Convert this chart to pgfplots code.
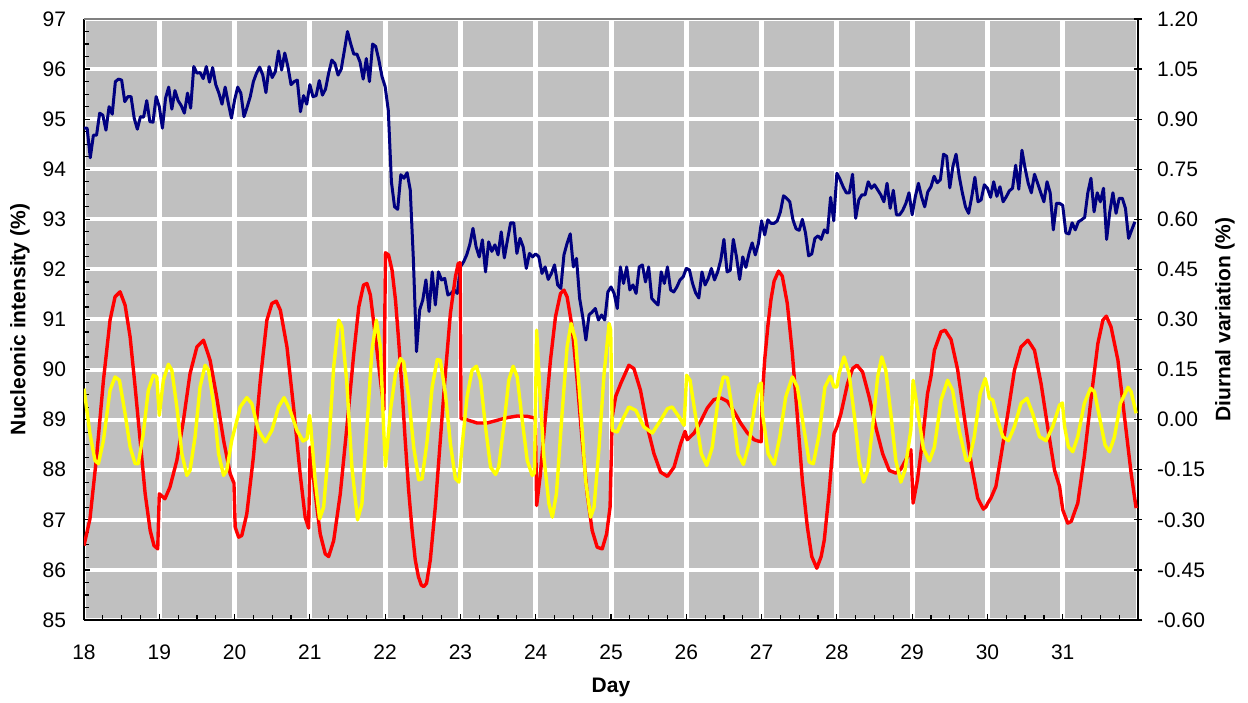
\documentclass[border=0pt]{standalone}
\usepackage{pgfplots}
\pgfplotsset{compat=1.18}
\usepackage{pgfplotstable}
\usepackage{fontspec}
\setmainfont{Liberation Sans}
\definecolor{plotgray}{RGB}{192,192,192}
\definecolor{navyline}{RGB}{0,0,128}
\definecolor{redline}{RGB}{255,0,0}
\definecolor{yellowline}{RGB}{255,255,0}

% Nucleonic intensity (%), hours from day 18 00h
\pgfplotstableread{
h v
0 94.82
1 94.82
2 94.23
3 94.68
4 94.68
5 95.12
6 95.08
7 94.78
8 95.25
9 95.10
10 95.75
11 95.80
12 95.78
13 95.35
14 95.45
15 95.45
16 95.02
17 94.80
18 95.05
19 95.04
20 95.37
21 94.95
22 94.94
23 95.45
24 95.25
25 94.82
26 95.42
27 95.64
28 95.20
29 95.57
30 95.37
31 95.27
32 95.12
33 95.52
34 95.22
35 96.05
36 95.92
37 95.93
38 95.81
39 96.05
40 95.74
41 96.03
42 95.69
43 95.52
44 95.30
45 95.64
46 95.32
47 95.02
48 95.38
49 95.64
50 95.52
51 95.05
52 95.24
53 95.45
54 95.75
55 95.92
56 96.04
57 95.88
58 95.53
59 96.05
60 95.83
61 95.95
62 96.36
63 95.98
64 96.32
65 96.05
66 95.69
67 95.75
68 95.78
69 95.15
70 95.47
71 95.30
72 95.69
73 95.45
74 95.47
75 95.77
76 95.48
77 95.60
78 95.92
79 96.18
80 96.11
81 95.88
82 96.00
83 96.37
84 96.75
85 96.51
86 96.30
87 96.30
88 96.14
89 95.80
90 96.21
91 95.75
92 96.50
93 96.45
94 96.18
95 95.85
96 95.65
97 95.18
98 93.75
99 93.25
100 93.20
101 93.89
102 93.82
103 93.93
104 93.59
105 92.20
106 90.36
107 91.19
108 91.39
109 91.79
110 91.16
111 91.95
112 91.29
113 91.95
114 91.79
115 91.82
116 91.49
117 91.52
118 91.59
119 91.52
120 92.05
121 92.15
122 92.29
123 92.50
124 92.82
125 92.45
126 92.25
127 92.59
128 91.95
129 92.55
130 92.36
131 92.49
132 92.29
133 92.75
134 92.23
135 92.59
136 92.93
137 92.93
138 92.32
139 92.62
140 92.45
141 92.02
142 92.32
143 92.25
144 92.31
145 92.25
146 91.92
147 92.05
148 91.80
149 91.92
150 92.09
151 91.69
152 91.62
153 92.29
154 92.52
155 92.71
156 92.05
157 92.22
158 91.42
159 91.05
160 90.59
161 91.09
162 91.15
163 91.22
164 90.99
165 91.09
166 90.99
167 91.55
168 91.65
169 91.52
170 91.22
171 92.05
172 91.72
173 92.05
174 91.59
175 91.69
176 91.52
177 92.05
178 92.09
179 91.75
180 92.05
181 91.42
182 91.35
183 91.29
184 91.95
185 91.72
186 92.05
187 91.59
188 91.55
189 91.65
190 91.79
191 91.85
192 92.02
193 91.99
194 91.72
195 91.53
196 91.43
197 91.95
198 91.69
199 91.82
200 92.02
201 91.79
202 91.95
203 92.19
204 92.60
205 91.95
206 91.98
207 92.60
208 92.25
209 91.80
210 92.25
211 92.04
212 92.32
213 92.53
214 92.29
215 92.52
216 92.97
217 92.69
218 92.99
219 92.92
220 92.92
221 92.97
222 93.15
223 93.47
224 93.42
225 93.35
226 92.99
227 92.81
228 92.78
229 93.00
230 92.73
231 92.27
232 92.31
233 92.62
234 92.67
235 92.60
236 92.79
237 92.73
238 93.44
239 92.97
240 93.92
241 93.80
242 93.65
243 93.53
244 93.53
245 93.90
246 93.02
247 93.39
248 93.49
249 93.49
250 93.75
251 93.62
252 93.69
253 93.59
254 93.49
255 93.35
256 93.72
257 93.22
258 93.58
259 93.09
260 93.09
261 93.18
262 93.32
263 93.53
264 93.09
265 93.45
266 93.72
267 93.45
268 93.25
269 93.55
270 93.65
271 93.86
272 93.73
273 93.79
274 94.30
275 94.26
276 93.63
277 94.06
278 94.30
279 93.86
280 93.53
281 93.25
282 93.12
283 93.45
284 93.84
285 93.35
286 93.39
287 93.69
288 93.62
289 93.44
290 93.75
291 93.46
292 93.65
293 93.35
294 93.45
295 93.57
296 93.62
297 94.08
298 93.60
299 94.38
300 94.02
301 93.72
302 93.53
303 93.90
304 93.72
305 93.53
306 93.35
307 93.75
308 93.53
309 92.79
310 93.32
311 93.32
312 93.28
313 92.73
314 92.71
315 92.93
316 92.79
317 92.95
318 92.99
319 93.04
320 93.53
321 93.82
322 93.15
323 93.53
324 93.35
325 93.62
326 92.60
327 93.15
328 93.53
329 93.12
330 93.42
331 93.42
332 93.22
333 92.62
334 92.79
335 92.95
}\nucleonic

% Diurnal (red)
\pgfplotstableread{
h r
0 -0.377
1.9 -0.297
4.0 -0.112
6.2 0.118
8.3 0.298
9.9 0.368
11.5 0.383
13.1 0.343
14.7 0.248
16.3 0.098
17.9 -0.062
19.5 -0.222
21.1 -0.332
22.3 -0.377
23.5 -0.387
24.0 -0.222
25.8 -0.237
27.4 -0.202
29.6 -0.122
31.7 -0.002
33.8 0.138
36.0 0.218
38.1 0.238
40.2 0.178
42.3 0.068
44.5 -0.062
46.6 -0.162
47.8 -0.190
48.2 -0.322
49.3 -0.352
50.3 -0.347
51.9 -0.282
54.0 -0.112
56.2 0.118
58.3 0.298
59.9 0.348
61.3 0.355
62.6 0.328
64.7 0.218
66.8 0.038
68.9 -0.162
70.5 -0.292
71.6 -0.325
72.1 -0.082
73.7 -0.222
75.3 -0.342
76.9 -0.402
78.0 -0.410
79.6 -0.362
81.7 -0.222
83.8 -0.022
86.0 0.198
87.6 0.338
89.1 0.403
90.2 0.408
91.3 0.373
92.9 0.248
94.5 0.118
95.6 0.030
96.1 0.500
97.1 0.493
98.2 0.448
99.3 0.358
100.3 0.238
101.4 0.088
102.4 -0.062
103.5 -0.212
104.6 -0.332
105.6 -0.420
106.6 -0.470
107.5 -0.495
108.3 -0.500
109.2 -0.490
110.4 -0.420
112.0 -0.260
113.6 -0.060
115.2 0.138
116.8 0.318
118.4 0.428
119.3 0.468
119.9 0.470
120.2 0.003
122.0 0.000
125.3 -0.010
128.5 -0.010
131.7 -0.002
134.9 0.006
138.1 0.011
141.3 0.010
143.2 0.006
143.9 0.005
144.3 -0.257
145.5 -0.162
147.1 0.008
148.7 0.178
150.3 0.308
151.9 0.378
153.0 0.388
154.0 0.368
155.6 0.278
157.2 0.118
158.8 -0.062
160.4 -0.222
162.0 -0.332
163.6 -0.382
165.2 -0.387
166.6 -0.342
167.7 -0.262
168.4 0.010
169.5 0.070
171.1 0.108
173.7 0.163
175.3 0.153
177.4 0.088
179.6 -0.022
181.7 -0.102
183.8 -0.157
186.0 -0.170
188.1 -0.142
190.2 -0.072
191.6 -0.035
192.3 -0.060
194.5 -0.040
196.6 -0.005
198.7 0.035
200.8 0.060
203.0 0.065
205.1 0.055
207.2 0.025
209.3 -0.010
211.5 -0.040
213.6 -0.060
215.2 -0.065
215.9 -0.066
216.1 0.050
217.0 0.180
218.0 0.280
219.0 0.360
220.0 0.415
221.4 0.445
222.6 0.430
224.2 0.348
225.8 0.200
227.4 0.010
229.0 -0.182
230.6 -0.322
232.0 -0.410
233.6 -0.445
235.0 -0.410
236.0 -0.360
237.5 -0.220
239.1 -0.042
240.1 -0.020
241.3 0.018
243.4 0.108
245.0 0.153
246.4 0.163
248.2 0.143
250.3 0.068
252.4 -0.022
254.6 -0.102
256.7 -0.152
258.8 -0.160
260.4 -0.148
262.0 -0.120
263.6 -0.090
264.3 -0.250
265.7 -0.180
267.3 -0.062
268.9 0.078
270.0 0.130
271.1 0.208
273.2 0.263
274.5 0.268
276.4 0.240
278.5 0.150
280.6 0.010
282.8 -0.130
284.9 -0.235
286.7 -0.268
287.6 -0.260
288.1 -0.250
289.1 -0.235
290.7 -0.200
292.3 -0.110
294.5 0.018
296.6 0.148
298.7 0.218
300.9 0.238
303.0 0.208
305.1 0.108
307.2 -0.022
309.4 -0.152
311.0 -0.200
312.0 -0.270
313.6 -0.310
314.7 -0.305
316.8 -0.250
318.9 -0.110
321.1 0.068
323.2 0.228
324.8 0.298
325.9 0.310
327.4 0.278
329.6 0.178
331.7 0.008
333.8 -0.160
335.4 -0.265
}\diurnal

% Semidiurnal (yellow)
\pgfplotstableread{
h r
0 0.093
1.9 -0.042
3.5 -0.122
4.6 -0.132
6.2 -0.062
8.3 0.088
9.9 0.128
11.3 0.118
13.1 0.018
14.7 -0.082
16.3 -0.132
17.3 -0.132
18.9 -0.042
20.5 0.088
22.1 0.133
23.2 0.128
24.0 0.013
25.3 0.118
26.9 0.166
28.0 0.148
29.6 0.038
31.2 -0.102
32.8 -0.167
33.8 -0.152
35.4 -0.052
37.0 0.098
38.6 0.163
39.7 0.148
41.3 0.048
42.9 -0.102
44.5 -0.167
45.5 -0.152
47.1 -0.062
48.2 -0.022
49.8 0.038
51.9 0.066
53.5 0.048
55.6 -0.032
57.8 -0.067
59.9 -0.032
62.0 0.038
63.8 0.066
65.7 0.028
67.9 -0.032
69.8 -0.064
71.1 -0.057
71.9 0.013
72.3 -0.022
73.7 -0.182
75.1 -0.297
76.4 -0.262
78.0 -0.082
79.6 0.158
81.2 0.298
82.2 0.278
83.8 0.108
85.4 -0.142
87.2 -0.300
88.6 -0.252
90.2 -0.022
91.8 0.208
93.2 0.298
94.5 0.218
95.5 -0.022
96.1 -0.140
97.7 0.028
99.3 0.138
100.9 0.183
101.9 0.173
103.5 0.068
105.1 -0.082
106.7 -0.180
107.8 -0.177
109.4 -0.062
111.0 0.098
112.6 0.180
113.6 0.178
115.2 0.078
116.8 -0.072
118.4 -0.177
119.5 -0.187
120.5 -0.082
122.1 0.068
123.7 0.148
125.1 0.160
126.4 0.118
128.0 -0.022
129.6 -0.142
131.2 -0.164
132.2 -0.142
133.8 -0.022
135.4 0.118
136.8 0.160
138.1 0.128
139.7 -0.002
141.3 -0.122
142.9 -0.167
143.6 -0.160
144.3 0.268
145.3 0.088
146.6 -0.112
148.2 -0.252
149.3 -0.292
150.6 -0.222
152.4 0.018
154.0 0.218
155.3 0.288
156.7 0.238
158.3 0.038
159.9 -0.182
161.5 -0.292
162.6 -0.262
164.2 -0.082
165.8 0.138
167.4 0.288
167.9 0.268
168.4 -0.032
170.0 -0.037
171.6 -0.002
173.7 0.038
175.9 0.028
178.5 -0.022
181.2 -0.040
183.8 -0.002
186.0 0.033
187.5 0.038
189.7 0.008
191.3 -0.017
192.1 0.133
193.2 0.118
195.0 0.008
196.8 -0.102
198.5 -0.137
200.3 -0.082
202.1 0.058
203.8 0.128
205.1 0.126
206.7 0.028
208.5 -0.102
210.2 -0.134
212.0 -0.072
213.8 0.038
215.2 0.103
215.9 0.110
216.3 0.018
218.1 -0.102
220.0 -0.134
221.8 -0.052
223.7 0.068
225.8 0.128
227.4 0.098
229.4 -0.022
231.2 -0.127
232.5 -0.132
234.4 -0.042
236.2 0.098
237.9 0.130
239.1 0.098
240.0 0.098
240.7 0.138
242.3 0.188
243.9 0.138
245.5 0.018
247.1 -0.122
248.5 -0.187
249.8 -0.152
251.4 -0.022
253.0 0.128
254.3 0.188
255.6 0.148
257.2 0.018
258.8 -0.122
260.4 -0.187
261.7 -0.152
263.6 -0.030
264.3 0.118
265.9 0.018
267.6 -0.087
269.5 -0.124
271.1 -0.082
273.2 0.058
275.3 0.118
276.9 0.088
279.0 -0.032
281.2 -0.122
282.2 -0.122
283.8 -0.052
285.7 0.078
287.3 0.123
287.9 0.100
288.6 0.064
289.7 0.059
291.3 -0.001
292.9 -0.051
294.7 -0.063
296.6 -0.021
298.7 0.049
300.6 0.064
302.4 0.019
304.6 -0.051
306.7 -0.063
308.8 -0.021
311.0 0.044
311.9 0.050
312.6 -0.021
313.8 -0.081
315.2 -0.096
316.8 -0.051
318.9 0.049
320.9 0.094
322.1 0.084
323.7 0.009
325.5 -0.076
326.9 -0.096
328.5 -0.051
330.4 0.049
332.8 0.097
333.8 0.084
335.4 0.019
}\semidiurnal

\pgfplotsset{
  base/.style={
    scale only axis, width=527pt, height=300.5pt,
    at={(0pt,0pt)}, anchor=south west,
    xmin=0, xmax=336,
    tick label style={font=\fontsize{10.5}{12}\selectfont},
    label style={font=\fontsize{10.5}{12}\selectfont\bfseries},
    /pgf/number format/assume math mode=true,
    axis line style={black, line width=1pt},
  }
}

\begin{document}
\begin{tikzpicture}
\path[use as bounding box] (-42pt,-41pt) rectangle (582pt,310pt);
\begin{axis}[base,
  ymin=85, ymax=97,
  axis x line*=bottom, axis y line*=left,
  axis background/.style={fill=plotgray},
  xtick={0,24,...,336},
  xticklabels={18,19,20,21,22,23,24,25,26,27,28,29,30,31},
  minor x tick num=3,
  ytick={85,86,...,97}, minor y tick num=3,
  tick align=inside, major tick length=3pt, minor tick length=2.5pt,
  tick style={black, line width=0.6pt},
  xmajorgrids, ymajorgrids,
  major x grid style={white, line width=2.5pt},
  major y grid style={white, line width=2pt},
  xticklabel shift=9pt, yticklabel shift=5.5pt,
  xlabel={Day}, ylabel={Nucleonic intensity (\%)},
  xlabel style={at={(axis description cs:0.5,-0.113)}, anchor=center},
  ylabel style={at={(axis description cs:-0.0607,0.5)}, anchor=center},
  after end axis/.code={\draw[color={rgb,255:red,128;green,128;blue,128}, line width=1.2pt] (rel axis cs:0,1) -- (rel axis cs:1,1);},
]
\addplot[color=navyline, line width=1.5pt, no markers, line join=round] table[x=h, y=v] {\nucleonic};
\end{axis}
\begin{axis}[base,
  ymin=-0.6, ymax=1.2,
  axis x line=none, axis y line*=right,
  ytick={-0.6,-0.45,-0.3,-0.15,0,0.15,0.3,0.45,0.6,0.75,0.9,1.05,1.2},
  yticklabels={-0.60,-0.45,-0.30,-0.15,0.00,0.15,0.30,0.45,0.60,0.75,0.90,1.05,1.20},
  tick align=center, major tick length=4pt,
  tick style={black, line width=0.6pt},
  yticklabel shift=4pt,
  ylabel={Diurnal variation (\%)},
  ylabel style={at={(axis description cs:1.0825,0.5)}, anchor=center},
]
\addplot[color=redline, line width=1.7pt, no markers, line join=round] table[x=h, y=r] {\diurnal};
\addplot[color=yellowline, line width=1.7pt, no markers, line join=round] table[x=h, y=r] {\semidiurnal};
\end{axis}
\end{tikzpicture}
\end{document}
